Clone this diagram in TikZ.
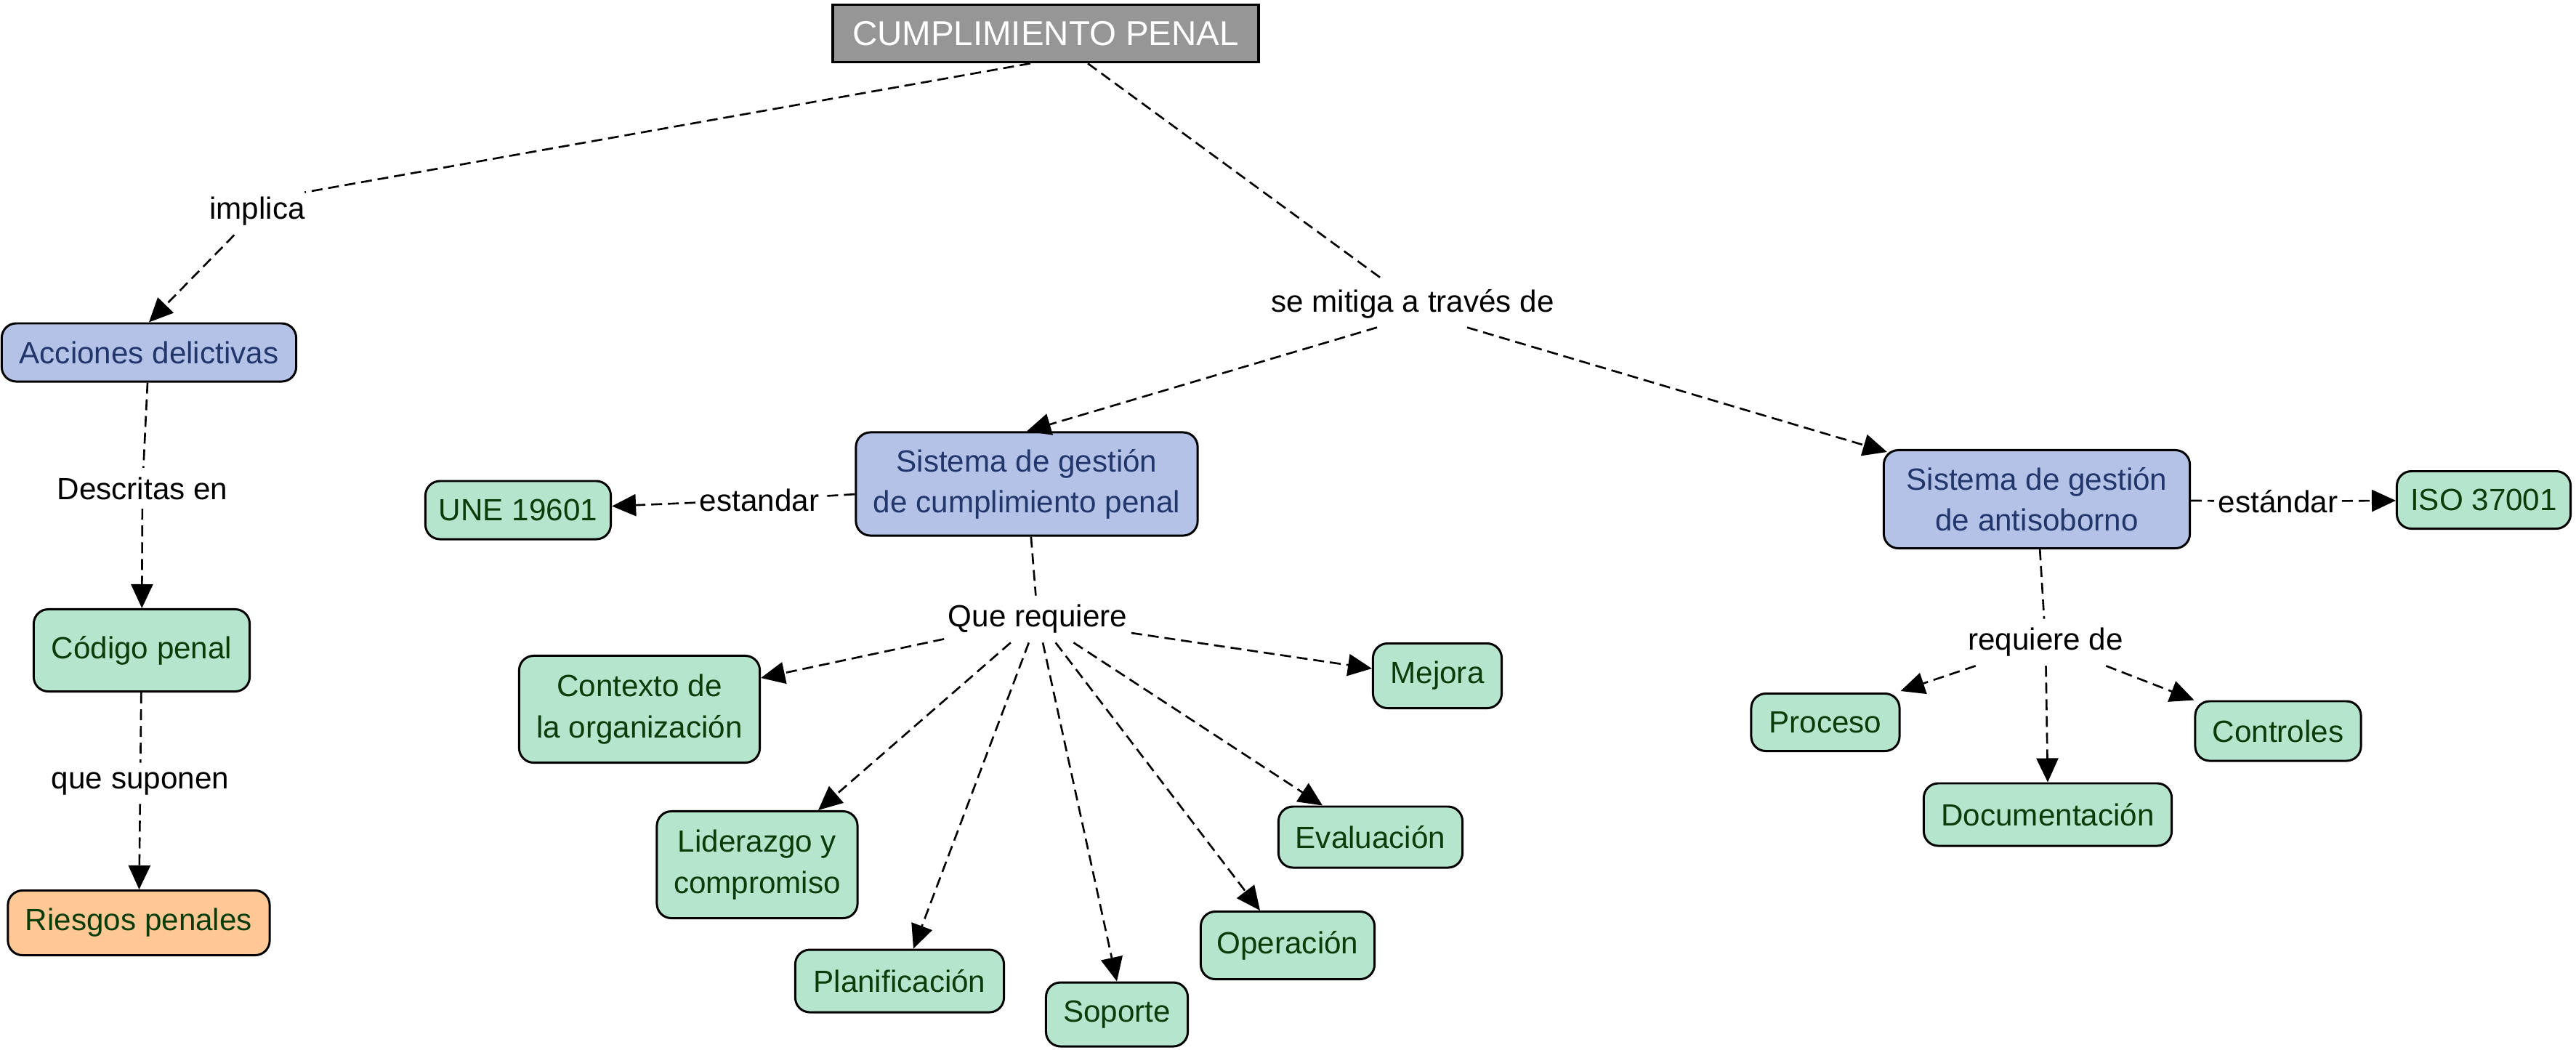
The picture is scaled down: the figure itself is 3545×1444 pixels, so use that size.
\documentclass[tikz,border=0pt]{standalone}
\usepackage{fontspec}
\setmainfont{Liberation Sans}
\usetikzlibrary{arrows.meta,calc}
\definecolor{bluefill}{HTML}{B3C2E6}
\definecolor{bluetext}{HTML}{22366B}
\definecolor{greenfill}{HTML}{B5E5CD}
\definecolor{greentext}{HTML}{0A3C0A}
\definecolor{orangefill}{HTML}{FFC894}
\definecolor{titlefill}{HTML}{969696}
\begin{document}
\begin{tikzpicture}[x=0.01cm,y=-0.01cm,
 box/.style={draw=black,line width=0.85pt,rounded corners=0.2cm,inner sep=0pt,align=center,font=\fontsize{12}{16}\selectfont},
 bluebox/.style={box,fill=bluefill,text=bluetext},
 greenbox/.style={box,fill=greenfill,text=greentext},
 orangebox/.style={box,fill=orangefill,text=greentext},
 lbl/.style={fill=white,inner xsep=0.05cm,inner ysep=0.12cm,font=\fontsize{12}{14}\selectfont},
 link/.style={dash pattern=on 0.15cm off 0.08cm,line width=0.75pt},
 arr/.style={link,-{Triangle[length=0.33cm,width=0.3cm]}},
 sz/.style 2 args={minimum width=#1cm,minimum height=#2cm}]
\useasboundingbox (0,0) rectangle (3545,1444);
% nodes
\node[draw=black,line width=1pt,fill=titlefill,text=white,inner sep=0pt,sz={5.86}{0.79},font=\fontsize{13.5}{16}\selectfont] (title) at (1439,46) {CUMPLIMIENTO PENAL};
\node[bluebox,sz={4.05}{0.80}] (acc) at (205,485) {Acciones delictivas};
\node[greenbox,sz={2.97}{1.13}] (code) at (195,895) {Código penal};
\node[orangebox,sz={3.60}{0.89}] (riesgos) at (191,1270) {Riesgos penales};
\node[greenbox,sz={2.55}{0.80}] (une) at (713,702) {UNE 19601};
\node[bluebox,sz={4.70}{1.42}] (sgcp) at (1413,666) {Sistema de gestión\\de cumplimiento penal};
\node[bluebox,sz={4.21}{1.35}] (sga) at (2803,687) {Sistema de gestión\\de antisoborno};
\node[greenbox,sz={2.39}{0.79}] (iso) at (3418,688) {ISO 37001};
\node[greenbox,sz={3.31}{1.47}] (ctx) at (880,976) {Contexto de\\la organización};
\node[greenbox,sz={1.77}{0.89}] (mej) at (1978,930) {Mejora};
\node[greenbox,sz={2.76}{1.47}] (lid) at (1042,1190) {Liderazgo y\\compromiso};
\node[greenbox,sz={2.53}{0.84}] (ev) at (1886,1152) {Evaluación};
\node[greenbox,sz={2.87}{0.86}] (plan) at (1238,1350) {Planificación};
\node[greenbox,sz={1.95}{0.88}] (sop) at (1537,1396) {Soporte};
\node[greenbox,sz={2.39}{0.93}] (op) at (1772,1301) {Operación};
\node[greenbox,sz={2.04}{0.79}] (proc) at (2512,994) {Proceso};
\node[greenbox,sz={3.41}{0.86}] (doc) at (2818,1121) {Documentación};
\node[greenbox,sz={2.28}{0.82}] (ctrl) at (3135,1006) {Controles};
% labels
\node[lbl] (implica) at (354,291) {implica};
\node[lbl] (descritas) at (196,672) {Descritas en};
\node[lbl] (suponen) at (193,1078) {que suponen};
\node[lbl] (mitiga) at (1944,418) {se mitiga a través de};
\node[lbl] (estandar) at (1045,688) {estandar};
\node[lbl] (estandar2) at (3135,690) {estándar};
\node[lbl] (qr) at (1428,852) {Que requiere};
\node[lbl] (rq) at (2815,884) {requiere de};
% connectors
\draw[link] ($(title.south)+(-21,0)$) -- ($(implica.north east)+(-6,6)$);
\draw[arr] (implica) -- (acc.north);
\draw[link] (acc) -- (descritas);
\draw[arr] (descritas) -- (code);
\draw[link] (code) -- (suponen);
\draw[arr] (suponen) -- (riesgos);
\draw[link] ($(title.south)+(58,0)$) -- ($(mitiga.north)+(-40,0)$);
\draw[arr] ($(mitiga.south)+(-49,0)$) -- (sgcp.north);
\draw[arr] ($(mitiga.south)+(75,0)$) -- ($(sga.north west)+(6,4)$);
\draw[link] (sgcp) -- (estandar);
\draw[arr] (estandar) -- (une);
\draw[link] (sgcp) -- (qr);
\draw[arr] (qr) -- ($(ctx.north east)+(0,32)$);
\draw[arr] (qr) -- ($(lid.north)+(84,0)$);
\draw[arr] (qr) -- ($(plan.north)+(19,0)$);
\draw[arr] (qr) -- (sop.north);
\draw[arr] (qr) -- ($(op.north)+(-38,0)$);
\draw[arr] (qr) -- ($(ev.north)+(-66,0)$);
\draw[arr] (qr) -- ($(mej.west)+(0,-10)$);
\draw[link] (sga) -- (estandar2);
\draw[arr] (estandar2) -- (iso);
\draw[link] (sga) -- (rq);
\draw[arr] (rq) -- ($(proc.north east)+(0,-2)$);
\draw[arr] (rq) -- (doc.north);
\draw[arr] (rq) -- (ctrl.north west);
\end{tikzpicture}
\end{document}
